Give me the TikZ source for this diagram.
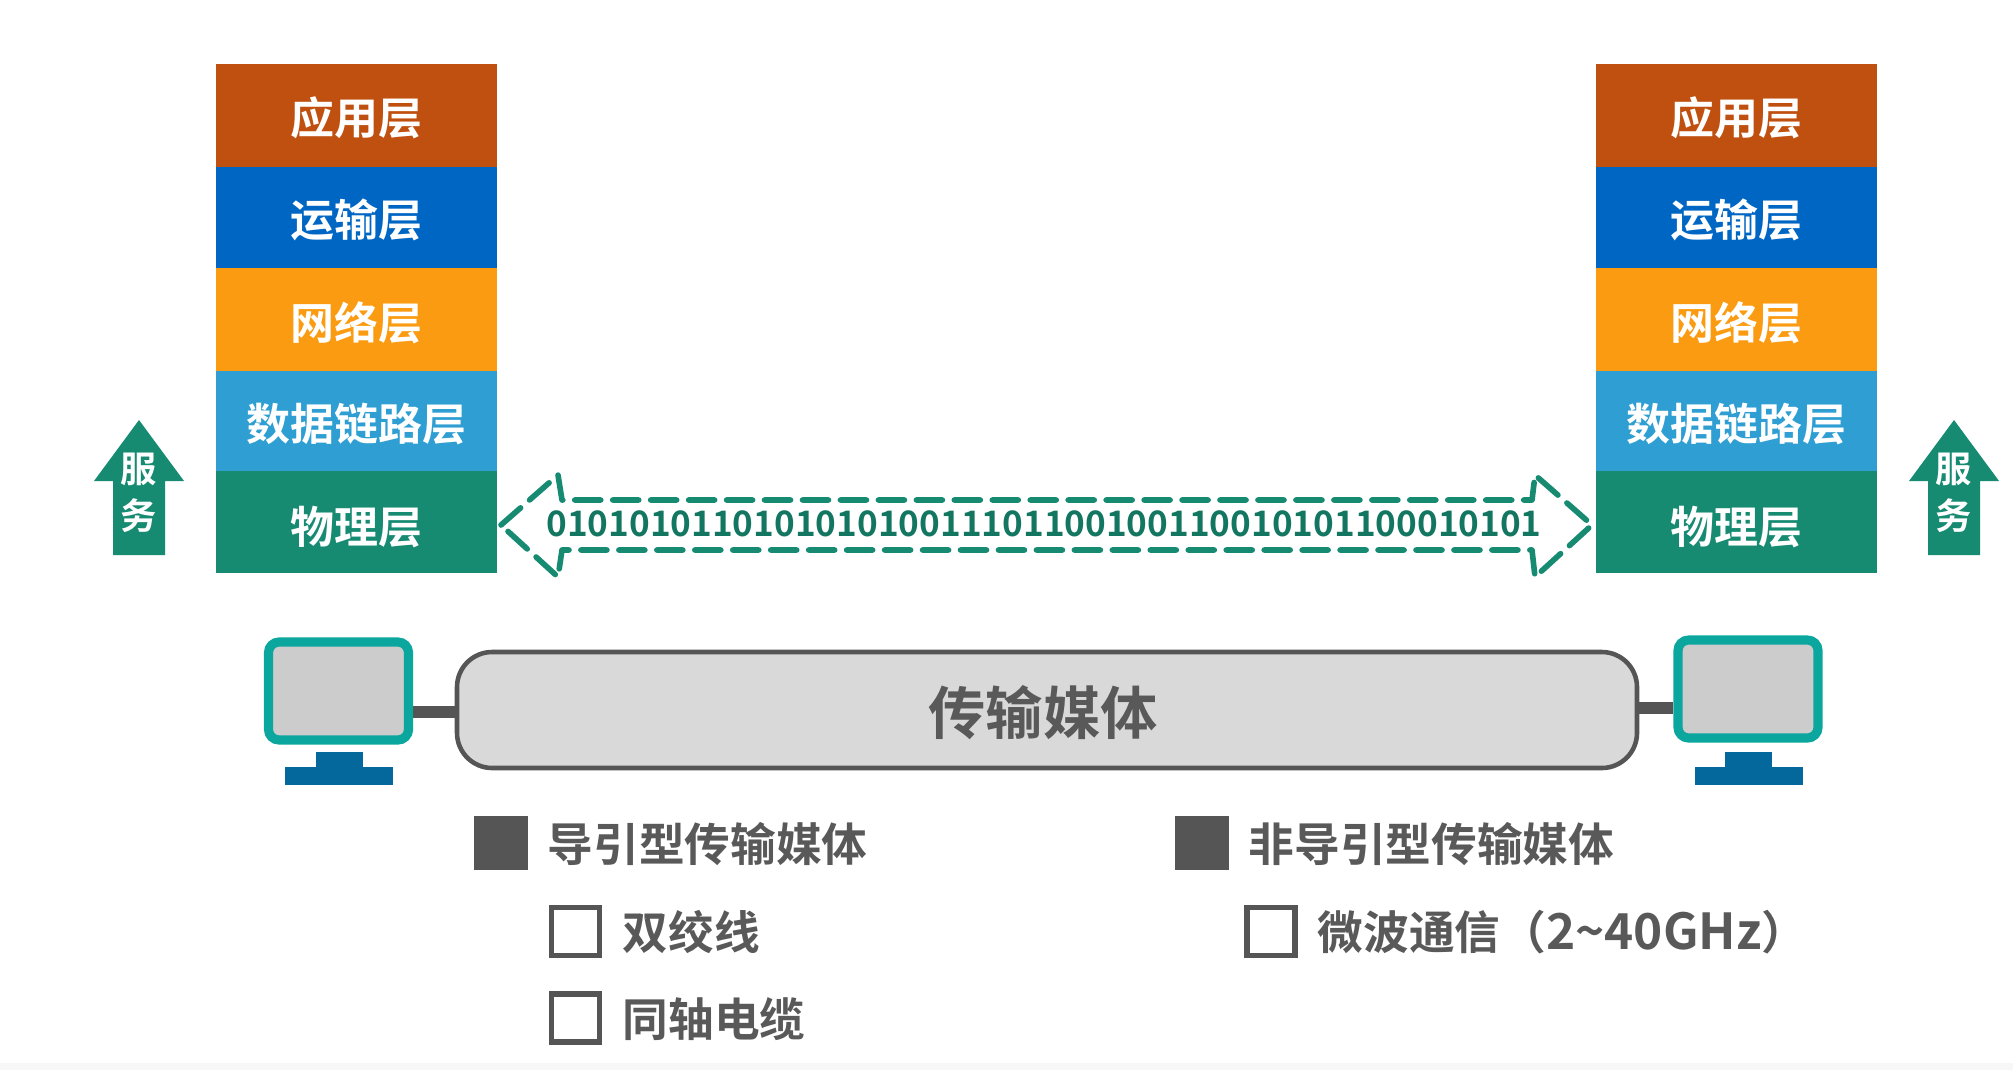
\documentclass[tikz,border=0pt]{standalone}
\usepackage{fontspec}
\usepackage{xcolor}
\usetikzlibrary{calc}
\setmainfont{Noto Sans CJK SC}[BoldFont={Noto Sans CJK SC Bold}]
\definecolor{appcol}{HTML}{C0500F}
\definecolor{tracol}{HTML}{0066C4}
\definecolor{netcol}{HTML}{FB9B12}
\definecolor{lnkcol}{HTML}{2F9FD3}
\definecolor{phycol}{HTML}{168B72}
\definecolor{scrcol}{HTML}{0BA79E}
\definecolor{stdcol}{HTML}{05689C}
\definecolor{txtcol}{HTML}{595959}
\definecolor{barcol}{HTML}{555555}
\tikzset{
  layerbox/.style={minimum width=2.81cm,minimum height=#1,inner sep=0pt,outer sep=0pt,text=white,text height=12pt,text depth=1.2pt,font=\fontsize{12.5}{14}\selectfont\bfseries},
  screenbox/.style={draw=scrcol,line width=2.6pt,fill=gray!40!white,rounded corners=3pt,minimum width=1.4cm,minimum height=0.98cm,inner sep=0pt},
  mediabox/.style={draw=barcol,line width=1.3pt,fill=black!15,rounded corners=10pt,minimum width=11.8cm,minimum height=1.16cm},
  mediatext/.style={text=txtcol,inner sep=0pt,font=\fontsize{16.3}{18}\selectfont\bfseries},
  bullettext/.style={anchor=west,inner sep=0pt,text=txtcol,font=\fontsize{13}{15}\selectfont\bfseries},
  solidmark/.style={fill=barcol,minimum size=0.54cm,inner sep=0pt},
  hollowmark/.style={draw=barcol,line width=1.5pt,fill=white,minimum size=0.48cm,inner sep=0pt},
  servicetext/.style={text=white,inner sep=0pt,align=center,font=\fontsize{10.3}{13.5}\selectfont\bfseries},
}
\begin{document}
\begin{tikzpicture}[line join=miter]
  \useasboundingbox (0,0) rectangle (20.13,10.70);
  \fill[gray!6] (0,0) rectangle (20.13,0.07);
  % left stack
  \node[layerbox=1.03cm,fill=appcol] (appL) at (3.565,9.545) {应用层};
  \node[layerbox=1.01cm,fill=tracol] (traL) at (3.565,8.525) {运输层};
  \node[layerbox=1.03cm,fill=netcol,text height=12.4pt] (netL) at (3.565,7.505) {网络层};
  \node[layerbox=1.00cm,fill=lnkcol,text height=12.4pt] (lnkL) at (3.565,6.490) {数据链路层};
  \node[layerbox=1.02cm,fill=phycol,text height=13.2pt] (phyL) at (3.565,5.480) {物理层};
  % right stack
  \node[layerbox=1.03cm,fill=appcol] (appR) at (17.365,9.545) {应用层};
  \node[layerbox=1.01cm,fill=tracol] (traR) at (17.365,8.525) {运输层};
  \node[layerbox=1.03cm,fill=netcol,text height=12.4pt] (netR) at (17.365,7.505) {网络层};
  \node[layerbox=1.00cm,fill=lnkcol,text height=12.4pt] (lnkR) at (17.365,6.490) {数据链路层};
  \node[layerbox=1.02cm,fill=phycol,text height=13.2pt] (phyR) at (17.365,5.480) {物理层};
  % service arrows
  \foreach \cx/\nm in {1.39/svcL,19.54/svcR} {
    \fill[phycol] (\cx,6.50) -- (\cx+0.45,5.89) -- (\cx+0.26,5.89) -- (\cx+0.26,5.15)
      -- (\cx-0.26,5.15) -- (\cx-0.26,5.89) -- (\cx-0.45,5.89) -- cycle;
    \node[servicetext] (\nm) at (\cx,5.77) {服\\务};
  }
  % bit stream
  \draw[phycol,line width=1.6pt,line cap=round,line join=round,dash pattern=on 7.4pt off 3.4pt]
    (5.01,5.45) -- (5.58,5.95) -- (5.62,5.70) -- (15.32,5.70) -- (15.35,5.95) -- (15.92,5.45)
    -- (15.35,4.93) -- (15.32,5.20) -- (5.62,5.20) -- (5.58,4.93) -- cycle;
  \node[inner sep=0pt,text=phycol!85!black,font=\fontsize{10}{12}\selectfont\bfseries] (bits) at (10.44,5.46) {010101011010101010011101100100110010101100010101};
  % computers and medium
  \node[mediabox] (medium) at (10.47,3.60) {};
  \node[mediatext] (mediumtext) at (10.43,3.575) {传输媒体};
  \node[screenbox] (scrL) at (3.385,3.79) {};
  \node[screenbox] (scrR) at (17.48,3.81) {};
  \draw[barcol,line width=3.4pt] (scrL.east |- 0,3.58) -- (medium.west |- 0,3.58);
  \draw[barcol,line width=3.4pt] (medium.east |- 0,3.62) -- (scrR.west |- 0,3.62);
  \foreach \cx in {3.39,17.485} {
    \fill[stdcol] (\cx-0.235,3.18) rectangle (\cx+0.235,3.03);
    \fill[stdcol] (\cx-0.54,3.03) rectangle (\cx+0.54,2.85);
  }
  % lists
  \node[solidmark] (mk1) at (5.01,2.27) {};
  \node[bullettext] (tx1) at (5.47,2.255) {导引型传输媒体};
  \node[solidmark] (mk2) at (12.02,2.27) {};
  \node[bullettext] (tx2) at (12.48,2.255) {非导引型传输媒体};
  \node[hollowmark] (mk3) at (5.755,1.385) {};
  \node[bullettext] (tx3) at (6.22,1.38) {双绞线};
  \node[hollowmark] (mk4) at (5.755,0.52) {};
  \node[bullettext] (tx4) at (6.22,0.51) {同轴电缆};
  \node[hollowmark] (mk5) at (12.71,1.385) {};
  \node[bullettext] (tx5) at (13.17,1.38) {微波通信（{\fontsize{14.1}{15}\selectfont 2\textasciitilde 40GHz}）};
\end{tikzpicture}
\end{document}
